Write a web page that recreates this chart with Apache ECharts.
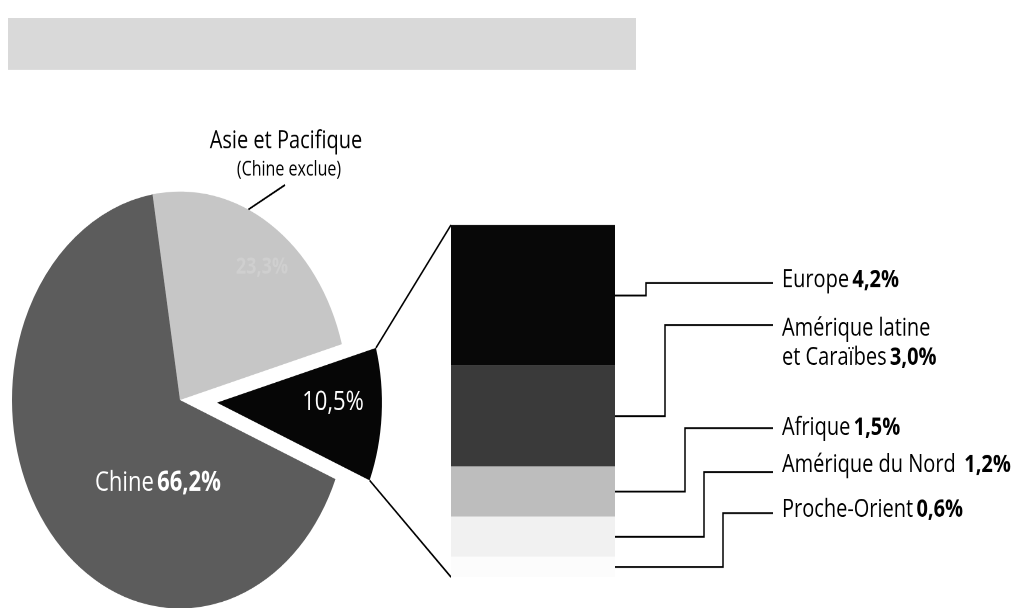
<!DOCTYPE html>
<html>
<head>
<meta charset="utf-8">
<script src="https://cdn.jsdelivr.net/npm/echarts@6/dist/echarts.min.js"></script>
<style>
  html, body { margin: 0; padding: 0; background: #fff; overflow: hidden; }
  #wrap { width: 1027px; height: 608px; overflow: hidden; }
  /* the drawing is laid out flat and stretched vertically, giving the tall pie and narrow lettering */
  #chart { width: 1027px; height: 490px; transform: scaleY(1.2408); transform-origin: 0 0; }
</style>
</head>
<body>
<div id="wrap"><div id="chart"></div></div>
<script>
// Main split (percent)
const pieNames = ['Asie et Pacifique', 'Autres régions', 'Chine'];
const pieValues = [23.3, 10.5, 66.2];

// Breakdown of the "Autres régions" slice (percent)
const regionNames = ['Europe', 'Amérique latine\net Caraïbes', 'Afrique', 'Amérique du Nord ', 'Proche-Orient'];
const regionValues = [4.2, 3.0, 1.5, 1.2, 0.6];

// Fill tones
const pieColors = ['#c6c6c6', '#060606', '#5c5c5c'];
const regionColors = ['#080808', '#3a3a3a', '#bdbdbd', '#f1f1f1', '#fcfcfc'];

const S = 1.2408;             // vertical stretch applied by CSS
const fy = y => y / S;        // page y -> chart y
const FONT = '"Open Sans", "Noto Sans", sans-serif';
const fmt = v => v.toFixed(1).replace('.', ',') + '%';

// Pie geometry
const CX = 180, CY = fy(400), R = 168, R_OUT = 165, START = 99.4, EXPLODE = 37;
const EXPLODED = 1;           // index of the pulled-out slice
// Bar geometry
const BAR_LEFT = 451, BAR_W = 164, BAR_TOP = fy(225), BAR_H = fy(577) - fy(225);
// Callout layout (page coordinates)
const elbowX = [646, 665, 685, 704, 723];
const calloutY = [283, 325, 428, 472, 513];
const textY = [280, 343, 428, 465, 510];
const LINE_END = 773, TEXT_X = 782;

const total = pieValues.reduce((a, b) => a + b, 0);
const rad = d => d * Math.PI / 180;
const a0 = 90 - START;                                   // clockwise from 12 o'clock
const a1 = a0 + pieValues.slice(0, EXPLODED).reduce((a, b) => a + b, 0) / total * 360;
const a2 = a1 + pieValues[EXPLODED] / total * 360;
const mid = (a1 + a2) / 2;
const ox = EXPLODE * Math.sin(rad(mid)), oy = -EXPLODE * Math.cos(rad(mid));
const corner = a => [CX + ox + R_OUT * Math.sin(rad(a)), CY + oy - R_OUT * Math.cos(rad(a))];

const chart = echarts.init(document.getElementById('chart'), null, { renderer: 'canvas', devicePixelRatio: 2 });

const pieLabelPos = [[262, 267], [333, 402], [158, 483]];
const richPie = {
  n: { color: '#fff', fontFamily: FONT, fontSize: 22 },
  b: { color: '#fff', fontFamily: FONT, fontSize: 22, fontWeight: 'bold' },
  m: { color: '#fff', fontFamily: FONT, fontSize: 22 },
  f: { color: '#cfcfcf', fontFamily: FONT, fontSize: 18, fontWeight: 'bold' }
};
const pieLabelText = i => i === 2 ? '{n|' + pieNames[i] + '} {b|' + fmt(pieValues[i]) + '}'
  : (i === 1 ? '{m|' + fmt(pieValues[i]) + '}' : '{f|' + fmt(pieValues[i]) + '}');

// one pie layer drawn at a given centre, showing only the listed slices
function pieLayer(center, radius, visible) {
  return {
    type: 'pie',
    center: center,
    radius: [0, radius],
    startAngle: START,
    clockwise: true,
    avoidLabelOverlap: false,
    silent: true,
    emphasis: { disabled: true },
    labelLine: { show: false },
    data: pieValues.map((v, i) => ({
      name: pieNames[i],
      value: v,
      itemStyle: { color: visible.includes(i) ? pieColors[i] : 'rgba(0,0,0,0)', borderWidth: 0 },
      label: {
        show: visible.includes(i),
        position: 'inside',
        formatter: pieLabelText(i),
        rich: richPie
      }
    })),
    labelLayout: p => ({
      x: pieLabelPos[p.dataIndex][0],
      y: fy(pieLabelPos[p.dataIndex][1]),
      align: 'center',
      verticalAlign: 'middle'
    })
  };
}

chart.setOption({
  animation: false,
  backgroundColor: '#fff',
  grid: { left: BAR_LEFT, top: BAR_TOP, width: BAR_W, height: BAR_H },
  xAxis: { type: 'category', data: ['r'], show: false },
  yAxis: { type: 'value', min: 0, max: 'dataMax', inverse: true, show: false },
  series: [
    pieLayer([CX, CY], R, [0, 2]),
    pieLayer([CX + ox, CY + oy], R_OUT, [EXPLODED])
  ].concat(regionValues.map((v, i) => ({
    type: 'bar',
    stack: 'regions',
    name: regionNames[i],
    data: [v],
    barWidth: '100%',
    silent: true,
    itemStyle: { color: regionColors[i] }
  })))
});

// Annotation layer: banner, connectors and callouts
const yPix = v => chart.convertToPixel({ yAxisIndex: 0 }, v);
const barTopY = yPix(0);
const barBotY = yPix(regionValues.reduce((a, b) => a + b, 0));
const barRight = BAR_LEFT + BAR_W;

const lineStyle = { stroke: '#000', lineWidth: 1.5, fill: null };
const graphics = [];

graphics.push({
  type: 'rect', silent: true,
  shape: { x: 8, y: fy(18), width: 628, height: fy(70) - fy(18) },
  style: { fill: '#d9d9d9' }
});

// connectors from the exploded slice to the bar
graphics.push({ type: 'polyline', silent: true, shape: { points: [corner(a1), [BAR_LEFT, barTopY]] }, style: lineStyle });
graphics.push({ type: 'polyline', silent: true, shape: { points: [corner(a2), [BAR_LEFT, barBotY]] }, style: lineStyle });

// outside label of the first slice
const edgeA = 24;
graphics.push({
  type: 'polyline', silent: true,
  shape: { points: [[CX + R * Math.sin(rad(edgeA)), CY - R * Math.cos(rad(edgeA))], [285, fy(185)]] },
  style: lineStyle
});
graphics.push({
  type: 'text', silent: true, x: 286, y: fy(141),
  style: { text: pieNames[0], fill: '#000', font: '20px ' + FONT, align: 'center', verticalAlign: 'middle' }
});
graphics.push({
  type: 'text', silent: true, x: 289, y: fy(170),
  style: { text: '(Chine exclue)', fill: '#000', font: '16px ' + FONT, align: 'center', verticalAlign: 'middle' }
});

// callouts for the bar segments
let cum = 0;
regionValues.forEach((v, i) => {
  const segY = yPix(cum + v / 2);
  cum += v;
  const ly = fy(calloutY[i]);
  graphics.push({
    type: 'polyline', silent: true,
    shape: { points: [[barRight, segY], [elbowX[i], segY], [elbowX[i], ly], [LINE_END, ly]] },
    style: lineStyle
  });
  const parts = regionNames[i].split('\n');
  const last = parts.pop();
  const txt = parts.map(p => '{n|' + p + '}').concat(['{n|' + last + '} {b|' + fmt(v) + '}']).join('\n');
  graphics.push({
    type: 'text', silent: true, x: TEXT_X, y: fy(textY[i]),
    style: {
      text: txt, align: 'left', verticalAlign: 'middle', fill: '#000',
      rich: {
        n: { fontFamily: FONT, fontSize: 20, color: '#000', lineHeight: 23.5 },
        b: { fontFamily: FONT, fontSize: 20, fontWeight: 'bold', color: '#000', lineHeight: 23.5 }
      }
    }
  });
});

chart.setOption({ graphic: graphics });
</script>
</body>
</html>
